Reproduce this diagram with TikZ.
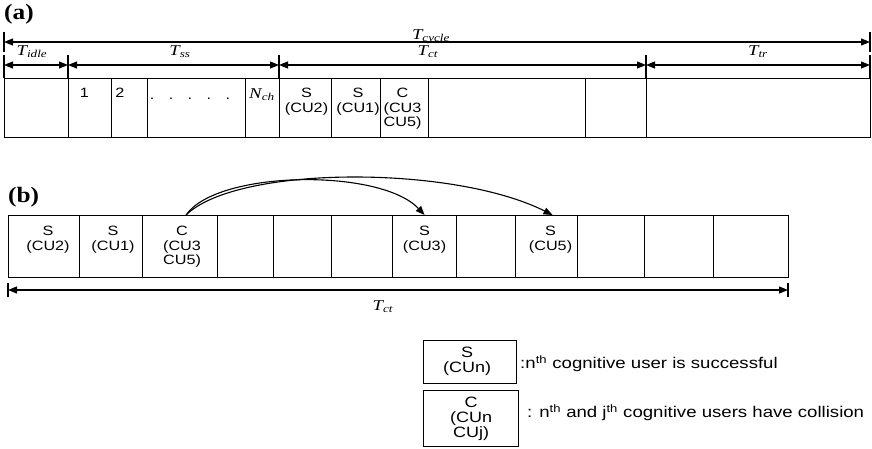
\documentclass[tikz,border=0pt]{standalone}
\usepackage{fontspec}
\setmainfont{Liberation Serif}
\setsansfont{Liberation Sans}
\usepackage{tikz}
\usetikzlibrary{arrows.meta,calc,positioning}

\begin{document}
\begin{tikzpicture}[x=1pt, y=1pt,
  cellbox/.style={draw, line width=1.1pt, inner sep=0pt, anchor=north west},
  txt/.style={font=\sffamily\fontsize{13.5}{14.5}\selectfont, align=center, inner sep=0pt, anchor=north, xscale=1.2, transform shape},
  lgtxt/.style={txt, font=\sffamily\fontsize{15}{15}\selectfont},
  desc/.style={font=\sffamily\fontsize{15.5}{16}\selectfont, inner sep=0pt, anchor=west, xscale=1.2, transform shape},
  dimlab/.style={font=\itshape\fontsize{15}{15}\selectfont, inner sep=0pt, anchor=base, xscale=1.25, transform shape},
  panel/.style={font=\bfseries\fontsize{22}{22}\selectfont, inner sep=0pt, anchor=north west, xscale=1.15, transform shape},
  dimarr/.style={line width=1.1pt, {Triangle[length=9pt,width=7pt]}-{Triangle[length=9pt,width=7pt]}},
  tick/.style={line width=1.1pt},
  jump/.style={line width=1.1pt, -{Triangle[length=9pt,width=7pt]}}]
\useasboundingbox (0,0) rectangle (872,-448);
% (a) frame structure
\node[panel] (pa) at (4,-4) {(a)};
\foreach \l/\r [count=\i] in {4/68,68/111,111/147,147/245,245/279,279/331,331/380,380/428,428/585,585/646,646/870}{
  \node[cellbox, minimum width={(\r-\l)*1pt}, minimum height=59pt] (a\i) at (\l,-78) {};
}
\node[txt] (n1) at (84.5,-88) {1};
\node[txt] (n2) at (120,-88) {2};
\node[txt, anchor=base] (dots) at (190,-99) {.\hspace{12pt}.\hspace{12pt}.\hspace{12pt}.\hspace{12pt}.};
\node[dimlab] (nch) at (262,-98) {N\textsubscript{ch}};
\node[txt] (sa1) at ($(a6.north)+(1,-10)$) {S\\(CU2)};
\node[txt] (sa2) at ($(a7.north)+(2,-10)$) {S\\(CU1)};
\node[txt] (ca3) at ($(a8.north)+(-2,-10)$) {C\\(CU3\\CU5)};
% durations
\coordinate (cyL) at (4,-42);
\coordinate (cyR) at (870,-42);
\draw[dimarr] (cyL) -- (cyR);
\foreach \n in {cyL,cyR}{ \draw[tick] ($(\n)+(0,10)$) -- ($(\n)+(0,-10)$); }
\node[dimlab] (tcy) at (431,-39) {T\textsubscript{cycle}};
\foreach \n/\xx in {p0/4,p1/68,p2/279,p3/646,p4/870}{
  \coordinate (\n) at (\xx,-65);
  \draw[tick] ($(\n)+(0,10)$) -- ($(\n)+(0,-13)$);
}
\draw[dimarr] (p0) -- (p1);
\draw[dimarr] (p1) -- (p2);
\draw[dimarr] (p2) -- (p3);
\draw[dimarr] (p3) -- (p4);
\node[dimlab] (tid) at (32,-55) {T\textsubscript{idle}};
\node[dimlab] (tss) at (180,-55) {T\textsubscript{ss}};
\node[dimlab] (tct) at (428,-55) {T\textsubscript{ct}};
\node[dimlab] (ttr) at (758,-55) {T\textsubscript{tr}};
% (b) collision resolution
\node[panel] (pb) at (8,-187) {(b)};
\foreach \l/\r [count=\i] in {8/79,79/142,142/217,217/273,273/331,331/392,392/456,456/515,515/577,577/644,644/713,713/788}{
  \node[cellbox, minimum width={(\r-\l)*1pt}, minimum height=62pt] (b\i) at (\l,-215) {};
}
\node[txt] (sb1) at ($(b1.north)+(4,-11)$) {S\\(CU2)};
\node[txt] (sb2) at ($(b2.north)+(2,-11)$) {S\\(CU1)};
\node[txt] (cb3) at ($(b3.north)+(2,-11)$) {C\\(CU3\\CU5)};
\node[txt] (sb7) at ($(b7.north)+(0,-11)$) {S\\(CU3)};
\node[txt] (sb9) at ($(b9.north)+(4,-11)$) {S\\(CU5)};
\draw[jump] ([xshift=6pt]b3.north) .. controls +(31,45) and +(-44,47) .. (b7.north);
\draw[jump] ([xshift=6pt]b3.north) .. controls +(51,50) and +(-99,50) .. ([xshift=6pt]b9.north);
\coordinate (q0) at (8,-290);
\coordinate (q1) at (788,-290);
\draw[dimarr] (q0) -- (q1);
\foreach \n in {q0,q1}{ \draw[tick] ($(\n)+(0,7)$) -- ($(\n)+(0,-7)$); }
\node[dimlab] (tctb) at (383,-310) {T\textsubscript{ct}};
% legend
\node[cellbox, minimum width=93pt, minimum height=43pt] (lgS) at (423,-340) {};
\node[cellbox, minimum width=95pt, minimum height=56pt] (lgC) at (423,-390) {};
\node[lgtxt] (lgSt) at ($(lgS.north)+(-3,-7)$) {S\\(CUn)};
\node[lgtxt] (lgCt) at ($(lgC.north)+(0,-7)$) {C\\(CUn\\CUj)};
\node[desc] (dS) at (520,-364) {:n\textsuperscript{th} cognitive user is successful};
\node[desc] (dC) at (527,-413) {: n\textsuperscript{th} and j\textsuperscript{th} cognitive users have collision};
\end{tikzpicture}
\end{document}
